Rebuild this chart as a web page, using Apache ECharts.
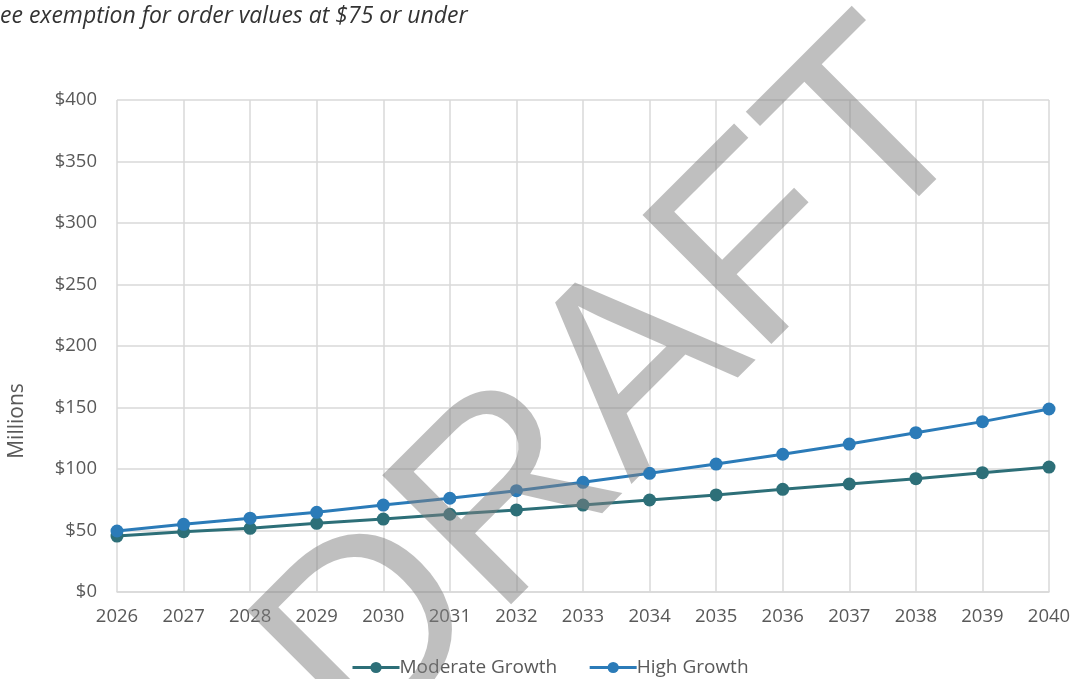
<!DOCTYPE html>
<html>
<head>
<meta charset="utf-8">
<script src="https://cdn.jsdelivr.net/npm/echarts@6/dist/echarts.min.js"></script>
<style>
html,body{margin:0;padding:0;background:#fff;}
#chart{width:1074px;height:679px;}
</style>
</head>
<body>
<div id="chart"></div>
<script>
const years = ['2026','2027','2028','2029','2030','2031','2032','2033','2034','2035','2036','2037','2038','2039','2040'];
const moderateGrowth = [45.5, 49, 51.8, 55.8, 59.3, 63.2, 66.7, 70.7, 74.8, 78.9, 83.5, 87.8, 92.1, 97, 101.6];
const highGrowth = [49.6, 55, 60, 64.8, 70.7, 76.2, 82.4, 89.2, 96.5, 104, 112, 120.3, 129.5, 138.5, 148.8];
const seriesNames = ['Moderate Growth', 'High Growth'];
const titleText = 'ee exemption for order values at $75 or under';
const axisTitle = 'Millions';
const watermark = 'DRAFT';

const chart = echarts.init(document.getElementById('chart'));
const labelFont = 'Open Sans';
chart.setOption({
  animation: false,
  backgroundColor: '#ffffff',
  grid: {left: 117, right: 25, top: 100, bottom: 87, containLabel: false},
  legend: {
    top: 653,
    left: 346,
    itemWidth: 47,
    itemHeight: 14,
    itemGap: 31,
    lineStyle: {width: 3},
    textStyle: {fontFamily: labelFont, fontSize: 19, color: '#595959', padding: [0, 0, 0, -5]},
    data: seriesNames
  },
  xAxis: {
    type: 'category',
    data: years,
    boundaryGap: false,
    axisLine: {lineStyle: {color: '#d9d9d9', width: 1.5}},
    axisTick: {show: false},
    splitLine: {show: true, lineStyle: {color: '#d9d9d9', width: 1.5}},
    axisLabel: {fontFamily: labelFont, fontSize: 18.5, color: '#595959', margin: 15}
  },
  yAxis: {
    type: 'value',
    min: 0, max: 400, interval: 50,
    axisLine: {show: false},
    axisTick: {show: false},
    splitLine: {lineStyle: {color: '#d9d9d9', width: 1.5}},
    axisLabel: {fontFamily: labelFont, fontSize: 18.5, color: '#595959', margin: 20, formatter: v => '$' + v}
  },
  series: [
    {
      name: seriesNames[0], type: 'line', data: moderateGrowth,
      symbol: 'circle', symbolSize: 13,
      lineStyle: {width: 3, color: '#2d6f78'},
      itemStyle: {color: '#2d6f78'}
    },
    {
      name: seriesNames[1], type: 'line', data: highGrowth,
      symbol: 'circle', symbolSize: 13,
      lineStyle: {width: 3, color: '#2b7bb8'},
      itemStyle: {color: '#2b7bb8'}
    }
  ],
  graphic: [
    {
      type: 'text', x: 0, y: 16,
      style: {text: titleText, font: 'italic 23px "Open Sans"', fill: '#333333', verticalAlign: 'middle'}
    },
    {
      type: 'text', x: 17, y: 421, rotation: Math.PI / 2,
      style: {text: axisTitle, font: '21px "Open Sans"', fill: '#595959', align: 'center', verticalAlign: 'middle'}
    },
    {
      type: 'text', x: 621, y: 391, rotation: Math.PI / 4, z: 100,
      style: {text: watermark, font: '265px "Liberation Sans"', fill: 'rgba(128,128,128,0.5)', align: 'center', verticalAlign: 'middle'}
    }
  ]
});
</script>
</body>
</html>
